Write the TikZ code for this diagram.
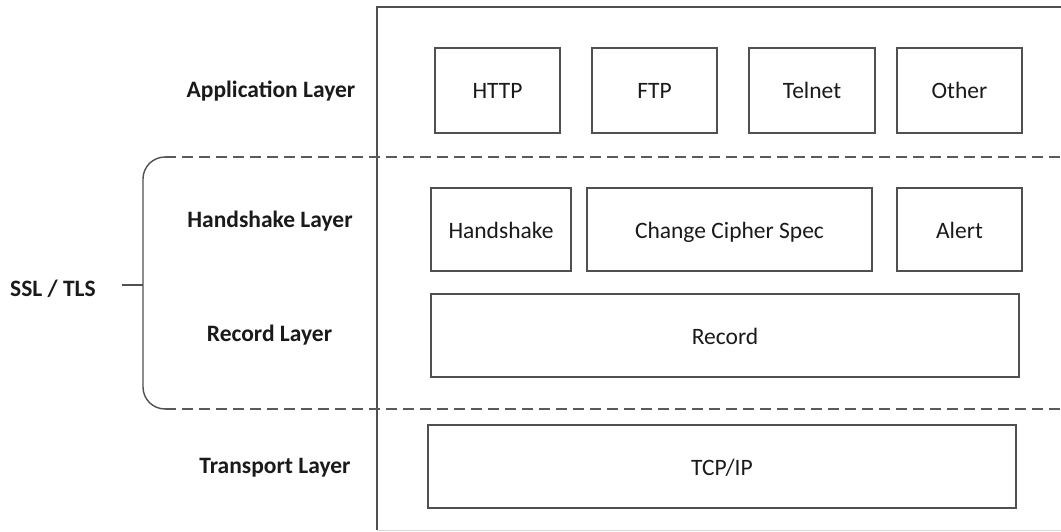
\documentclass[tikz,border=0pt]{standalone}
\usepackage{fontspec}
\setmainfont{Carlito}
\definecolor{linegray}{HTML}{505050}
\definecolor{dashgray}{HTML}{5A5A5A}
\definecolor{faintgray}{HTML}{D8D8D8}
\definecolor{txt}{HTML}{1A1A1A}
\begin{document}
\begin{tikzpicture}[x=1pt,y=-1pt,
  box/.style={draw=linegray,line width=1.4pt,inner sep=0pt,text=txt,
    font=\fontsize{23.5}{28}\selectfont,text height=17pt,text depth=0pt},
  layerlabel/.style={text=txt,font=\fontsize{23.5}{28}\selectfont\bfseries,inner sep=0pt,anchor=base},
  sepline/.style={draw=dashgray,line width=1.6pt,dash pattern=on 11pt off 6pt},
  frame/.style={draw=linegray,line width=1.2pt},
  bracket/.style={draw=linegray,line width=1.4pt}]
\useasboundingbox[fill=white] (0,0) rectangle (1061,532);
% outer frame
\draw[frame] (1061,7) -- (377,7) -- (377,530);
\draw[draw=faintgray,line width=1pt] (377,530.5) -- (1061,530.5);
% application layer boxes
\node[box,minimum width=125pt,minimum height=85pt] (http) at (497.5,90.5) {HTTP};
\node[box,minimum width=125pt,minimum height=85pt] (ftp) at (654.5,90.5) {FTP};
\node[box,minimum width=126pt,minimum height=85pt] (telnet) at (812,90.5) {Telnet};
\node[box,minimum width=125pt,minimum height=85pt] (other) at (959.5,90.5) {Other};
% handshake layer
\node[box,minimum width=140pt,minimum height=83pt] (hs) at (501,229.5) {Handshake};
\node[box,minimum width=285pt,minimum height=83pt] (ccs) at (729.5,229.5) {Change Cipher Spec};
\node[box,minimum width=125pt,minimum height=83pt] (alert) at (959.5,229.5) {Alert};
% record layer
\node[box,minimum width=588pt,minimum height=83pt] (rec) at (725,335.5) {Record};
% transport
\node[box,minimum width=588pt,minimum height=83pt] (tcp) at (722,466.5) {TCP/IP};
% layer labels
\node[layerlabel] (lapp) at (271,98) {Application Layer};
\node[layerlabel] (lhs) at (270,228) {Handshake Layer};
\node[layerlabel] (lrec) at (269.5,341) {Record Layer};
\node[layerlabel] (ltr) at (275,473) {Transport Layer};
\node[layerlabel,anchor=base west] (ssl) at (10,296) {SSL / TLS};
% bracket and separators
\coordinate (bt) at (165,157);
\coordinate (bb) at (165,409);
\coordinate (bm) at (143,285);
\coordinate (tick) at (122,285);
\draw[sepline] (bt) -- (1061,157);
\draw[sepline] (bb) -- (1061,409);
\draw[bracket] (bt) arc[start angle=90,end angle=180,radius=22pt] -- (143,387) arc[start angle=180,end angle=270,radius=22pt];
\draw[bracket] (tick) -- (bm);
\end{tikzpicture}
\end{document}
